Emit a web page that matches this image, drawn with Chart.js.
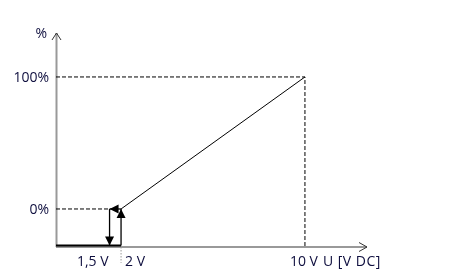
<!DOCTYPE html>
<html><head><meta charset="utf-8">
<script src="https://cdn.jsdelivr.net/npm/chart.js@4/dist/chart.umd.min.js"></script>
<style>html,body{margin:0;padding:0;background:#fff}#wrap{width:473px;height:275px}</style>
</head><body><div id="wrap"><canvas id="c" width="473" height="275"></canvas></div>
<script>
// ---- data (volts, percent) ----
const xRange = [-0.83, 12.7];        // visible input range (V)
const yRange = [-28.8, 133.3];       // visible output range (%)
const rampX = [2, 10];
const rampY = [0, 100];
const thresholdOn = 2;               // V
const thresholdOff = 1.5;            // V
const offLevel = -27.6;              // output off level (bottom line)
const yTicks = [0, 100];
const yTickLabels = ['0%', '100%'];
const xTickValues = [1.5, 2, 10];
const xTickLabels = ['1,5 V', '2 V', '10 V'];
const xTitle = 'U [V DC]';
const yTitle = '%';

const pts = (xs, ys) => xs.map((x, i) => ({x, y: ys[i]}));

const datasets = [
  {label:'ramp', data: pts(rampX, rampY), borderColor:'#000', borderWidth:1},
  {label:'dash100', data: pts([xRange[0], rampX[1], rampX[1]], [rampY[1], rampY[1], yRange[0]]), borderColor:'#000', borderWidth:1, borderDash:[4,2]},
  {label:'dash0', data: pts([xRange[0], thresholdOff], [0, 0]), borderColor:'#000', borderWidth:1, borderDash:[4,2]},
  {label:'offline', data: pts([xRange[0], thresholdOn], [offLevel, offLevel]), borderColor:'#000', borderWidth:2},
  {label:'dot2', data: pts([thresholdOn, thresholdOn], [yRange[0], yRange[0] - 12]), borderColor:'#9a9a9a', borderWidth:1, borderDash:[1.5,1.5]},
  {label:'arrDown', arrow:true, data: pts([thresholdOff, thresholdOff], [0, offLevel]), borderColor:'#000', borderWidth:1.3},
  {label:'arrLeft', arrow:true, data: pts([thresholdOn, thresholdOff], [0, 0]), borderColor:'#000', borderWidth:1.3},
  {label:'arrUp', arrow:true, data: pts([thresholdOn, thresholdOn], [offLevel, 0]), borderColor:'#000', borderWidth:1.3},
].map(d => Object.assign({showLine:true, pointRadius:0, fill:false, tension:0, clip:false}, d));

const deco = {
  id:'deco',
  beforeDatasetsDraw(chart){
    const {ctx, chartArea:a} = chart;
    ctx.save();
    ctx.strokeStyle = '#999';
    ctx.lineWidth = 2;
    ctx.beginPath();
    ctx.moveTo(a.left + 0.5, a.bottom); ctx.lineTo(a.left + 0.5, a.top);
    ctx.moveTo(a.left, a.bottom); ctx.lineTo(a.right, a.bottom);
    ctx.stroke();
    ctx.strokeStyle = '#333';
    ctx.lineWidth = 1;
    ctx.beginPath();
    ctx.moveTo(a.left - 4, a.top + 7); ctx.lineTo(a.left + 0.5, a.top); ctx.lineTo(a.left + 5, a.top + 7);
    ctx.moveTo(a.right - 8, a.bottom - 4.5); ctx.lineTo(a.right, a.bottom); ctx.lineTo(a.right - 8, a.bottom + 4.5);
    ctx.stroke();
    ctx.restore();
  },
  afterDatasetsDraw(chart){
    const {ctx, chartArea:a, scales:{x, y}} = chart;
    ctx.save();
    // arrowheads
    chart.data.datasets.forEach((ds, i) => {
      if (!ds.arrow) return;
      const m = chart.getDatasetMeta(i).data;
      const p0 = m[m.length - 2], p1 = m[m.length - 1];
      const ang = Math.atan2(p1.y - p0.y, p1.x - p0.x);
      const L = 9, W = 4.5;
      ctx.fillStyle = '#000';
      ctx.beginPath();
      ctx.moveTo(p1.x, p1.y);
      ctx.lineTo(p1.x - L*Math.cos(ang) + W*Math.sin(ang), p1.y - L*Math.sin(ang) - W*Math.cos(ang));
      ctx.lineTo(p1.x - L*Math.cos(ang) - W*Math.sin(ang), p1.y - L*Math.sin(ang) + W*Math.cos(ang));
      ctx.closePath();
      ctx.fill();
    });
    // texts
    ctx.fillStyle = '#0e0e3e';
    ctx.font = '14px "Open Sans"';
    ctx.textBaseline = 'middle';
    ctx.textAlign = 'right';
    yTicks.forEach((v, i) => ctx.fillText(yTickLabels[i], a.left - 7, y.getPixelForValue(v) + 1));
    ctx.fillText(yTitle, a.left - 9, a.top + 1);
    const ty = a.bottom + 15;
    ctx.textAlign = 'right';
    ctx.fillText(xTickLabels[0], x.getPixelForValue(xTickValues[0]) - 1, ty);
    ctx.textAlign = 'left';
    ctx.fillText(xTickLabels[1], x.getPixelForValue(xTickValues[1]) + 4, ty);
    ctx.textAlign = 'center';
    const x10 = x.getPixelForValue(xTickValues[2]);
    ctx.fillText(xTickLabels[2], x10 - 1, ty);
    ctx.textAlign = 'left';
    ctx.letterSpacing = '0.5px';
    ctx.fillText(xTitle, x10 + 18, ty);
    ctx.restore();
  }
};

new Chart(document.getElementById('c'), {
  type:'scatter',
  data:{datasets},
  options:{
    responsive:false, animation:false, devicePixelRatio:1,
    layout:{padding:{left:56, right:106, top:33, bottom:28}},
    plugins:{legend:{display:false}, tooltip:{enabled:false}},
    scales:{
      x:{type:'linear', display:false, min:xRange[0], max:xRange[1]},
      y:{type:'linear', display:false, min:yRange[0], max:yRange[1]}
    }
  },
  plugins:[deco]
});
</script></body></html>
